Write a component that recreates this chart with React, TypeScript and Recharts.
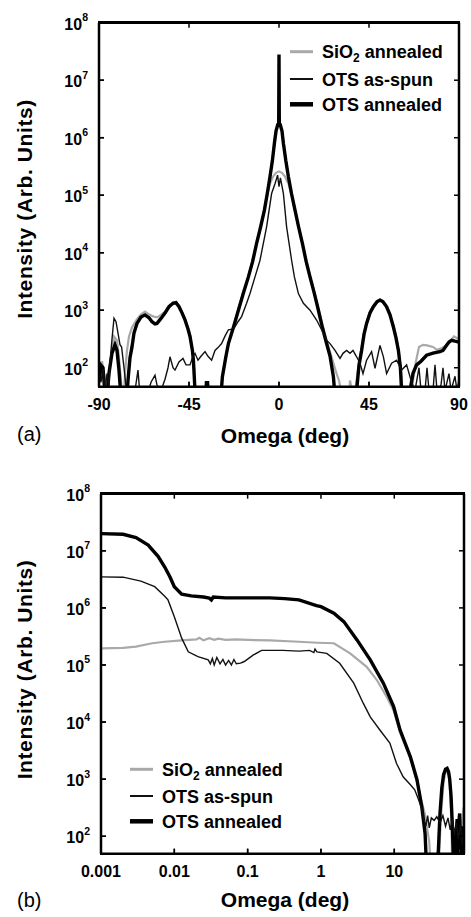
import React from "react"
import { LineChart, Line, XAxis, YAxis } from "recharts"

// ---- panel (a): omega scan, linear degrees ----
const sio2AOmega = [-90, -88.5, -87, -86, -84.5, -82.5, -81, -80, -79, -77.8, -77, -76, -75, -73.5, -71, -69, -67, -65, -63, -61, -59, -57, -55, -53, -51.5, -50, -48.5, -47, -45.5, -44.5, -43.3, -42.5, -41.8, -29.5, -28.3, -26.5, -25.3, -22.8, -20.3, -17.8, -15.3, -13.2, -11.2, -9.2, -7.3, -5.9, -4.5, -3, -1.5, 0, 1.5, 3, 4.7, 6.3, 8, 9.8, 11.7, 13.6, 15.5, 17.6, 19.7, 21.7, 23.8, 25.5, 27.5, 29, 30, 31, 32, 35, 35.5, 36.5, 38, 38.5, 40, 41.3, 42.5, 43.8, 45.5, 47.2, 49, 50.5, 52, 53.8, 55.5, 57.2, 58.5, 59.7, 60.7, 61.5, 62.3, 66, 67, 68.5, 70, 72, 74, 77, 79, 81.5, 84, 86, 87.5, 89, 90]
const sio2AIntensity = [50, 130, 60, 40, 110, 350, 300, 150, 60, 20, 80, 200, 350, 500, 700, 850, 950, 850, 780, 750, 830, 950, 1180, 1380, 1400, 1200, 920, 700, 480, 370, 210, 100, 30, 20, 70, 160, 263, 520, 1050, 2100, 3900, 7300, 14500, 28000, 55000, 100000, 160000, 210000, 245000, 260000, 245000, 210000, 160000, 100000, 55000, 28000, 14500, 7200, 3900, 2100, 1050, 560, 300, 190, 110, 75, 60, 40, 20, 20, 60, 40, 20, 50, 130, 220, 400, 620, 950, 1200, 1450, 1550, 1450, 1200, 860, 540, 350, 210, 110, 50, 20, 20, 60, 130, 230, 250, 245, 230, 205, 220, 250, 300, 350, 330, 320]

const spunAOmega = [-90, -89, -88, -87, -86, -85, -84.5, -83.5, -82.5, -81.5, -80.5, -79.5, -78.7, -77.5, -76, -74, -72, -70.5, -69.5, -66, -64, -62, -61, -59, -57, -55.5, -54.5, -53, -52, -50, -48, -46.5, -44.5, -43, -42, -40.5, -39, -37, -35.5, -33.7, -32, -30.5, -28.7, -27, -25.3, -23.5, -22, -20.5, -18.7, -16.2, -14.5, -12, -9.5, -6.2, -3.7, -2, -0.7, 0, 0.7, 2.2, 3.8, 6.3, 7.7, 9.7, 12.2, 15.5, 18.8, 21.3, 23.8, 25.5, 28, 30.5, 32, 33.8, 35.5, 37, 38.8, 40.5, 42, 43.8, 46.3, 48, 50.5, 52.2, 53.8, 56.3, 58.8, 61.3, 63.8, 66.3, 68, 70, 71, 73, 74, 75, 77, 78, 79, 81, 82, 83, 85, 86, 88, 89, 90]
const spunAIntensity = [79, 56, 100, 40, 79, 50, 126, 316, 724, 631, 398, 251, 229, 100, 32, 32, 40, 91, 32, 32, 56, 74, 50, 40, 63, 100, 155, 100, 91, 126, 145, 112, 112, 158, 178, 135, 158, 191, 158, 135, 200, 224, 263, 355, 457, 468, 513, 631, 776, 1318, 1950, 3800, 7400, 28200, 107000, 158000, 224000, 141000, 200000, 107000, 28200, 7400, 3800, 1950, 1318, 1000, 676, 457, 302, 263, 200, 145, 178, 200, 178, 200, 155, 120, 79, 135, 191, 98, 245, 155, 79, 120, 135, 91, 112, 56, 40, 100, 40, 40, 100, 40, 40, 112, 40, 50, 100, 40, 79, 40, 71, 40, 63]

const annealAOmega = [-90, -89, -88, -87, -86, -85, -83.5, -82, -81, -80, -79, -76.5, -75.5, -74.5, -73.5, -72.5, -71, -69, -67, -65, -63.5, -62, -61, -59, -57, -55, -53, -51.5, -50, -48.5, -47, -45.5, -44.5, -43.3, -42.8, -42, -40, -37, -36.3, -35.7, -35, -29.5, -28.3, -26.5, -25.3, -22.8, -20.3, -17.8, -15.3, -13.2, -11.2, -9.2, -7.3, -5.9, -4.5, -3.3, -2.3, -1.5, -0.6, -0.15, 0, 0.15, 0.6, 1.5, 2.2, 3.4, 4.7, 6.3, 8, 9.8, 11.7, 13.6, 15.5, 17.6, 19.7, 21.7, 23.8, 25.5, 27.2, 28.5, 37, 38.8, 40, 41.3, 42.5, 43.8, 45.5, 47.2, 49, 50.5, 52, 53.8, 55.5, 57.2, 58.5, 59.7, 60.7, 61.3, 62.5, 65, 65.5, 67, 68.8, 71, 73.8, 77, 80.5, 82, 83.8, 85, 86.3, 88, 90]
const annealAIntensity = [60, 110, 100, 35, 30, 80, 180, 250, 200, 90, 30, 20, 60, 150, 230, 400, 590, 760, 830, 740, 630, 580, 590, 720, 890, 1150, 1320, 1350, 1150, 900, 680, 470, 350, 200, 135, 40, 20, 20, 55, 55, 20, 20, 70, 160, 263, 500, 1000, 2000, 3800, 7000, 14500, 28000, 55000, 105000, 210000, 400000, 800000, 1300000, 1700000, 1800000, 28000000, 1800000, 1700000, 1300000, 800000, 400000, 210000, 105000, 55000, 28000, 14500, 7000, 3800, 2000, 1000, 500, 263, 160, 70, 20, 20, 40, 110, 200, 380, 590, 900, 1150, 1400, 1500, 1400, 1150, 830, 510, 330, 200, 100, 40, 20, 20, 40, 80, 112, 130, 165, 180, 190, 200, 245, 280, 300, 290, 280]

// ---- panel (b): omega scan, log degrees ----
const sio2BOmega = [0.001, 0.002, 0.003, 0.005, 0.0074, 0.0126, 0.02, 0.022, 0.025, 0.03, 0.035, 0.04, 0.05, 0.07, 0.1, 0.2, 0.5, 0.9, 1.5, 2.5, 4.2, 5.75, 7.9, 9.8, 12, 16.6, 20.4, 23.7, 26, 28.5, 30, 32, 40, 43, 47, 50, 52.5, 55, 57, 60, 62, 76, 80, 83, 85, 88, 89.3]
const sio2BIntensity = [195000, 200000, 210000, 240000, 255000, 270000, 280000, 300000, 270000, 295000, 275000, 290000, 275000, 280000, 275000, 270000, 255000, 245000, 240000, 160000, 93000, 55000, 27500, 16000, 6500, 2300, 900, 400, 250, 120, 80, 20, 20, 200, 900, 1300, 1400, 1200, 850, 200, 20, 20, 60, 150, 200, 320, 250]

const spunBOmega = [0.001, 0.002, 0.0035, 0.0054, 0.0074, 0.0082, 0.01, 0.0126, 0.0155, 0.021, 0.029, 0.031, 0.033, 0.035, 0.038, 0.042, 0.046, 0.05, 0.055, 0.06, 0.065, 0.07, 0.08, 0.09, 0.12, 0.155, 0.3, 0.5, 0.7, 0.8, 0.83, 0.88, 1.2, 1.8, 2.8, 3.8, 4.7, 6.4, 8.7, 10.7, 13.2, 16.6, 19, 21.4, 23.7, 25.5, 27, 28.5, 30, 32, 35, 38, 42, 46, 50, 54, 58, 62, 66, 70, 75, 80, 85, 89.3]
const spunBIntensity = [3500000, 3450000, 2950000, 2350000, 1600000, 1380000, 700000, 295000, 170000, 140000, 123000, 105000, 130000, 100000, 135000, 105000, 125000, 100000, 120000, 100000, 125000, 105000, 108000, 115000, 150000, 180000, 180000, 175000, 180000, 165000, 190000, 170000, 160000, 107000, 48000, 21000, 12300, 7200, 4300, 1900, 1100, 800, 650, 440, 300, 190, 150, 230, 140, 210, 190, 220, 170, 230, 150, 210, 130, 200, 110, 170, 90, 160, 70, 140]

const annealBOmega = [0.001, 0.002, 0.003, 0.0044, 0.006, 0.0074, 0.0087, 0.01, 0.0126, 0.017, 0.025, 0.03, 0.032, 0.034, 0.05, 0.1, 0.2, 0.32, 0.5, 0.87, 1.0, 1.5, 2.05, 3.1, 4.7, 7.1, 9.8, 12, 16.6, 20.4, 23.7, 26.3, 27.5, 30, 38, 40, 42, 44.5, 47, 50, 52.5, 55, 57, 59.5, 62, 64, 66, 68, 70, 72, 74, 76, 78, 80, 82, 83.5, 85, 87, 89.3]
const annealBIntensity = [20000000, 19500000, 17000000, 12600000, 8000000, 5200000, 3500000, 2350000, 1740000, 1620000, 1550000, 1480000, 1380000, 1550000, 1500000, 1500000, 1500000, 1450000, 1380000, 1100000, 1050000, 810000, 575000, 275000, 123000, 48000, 18600, 7240, 2450, 980, 330, 112, 30, 20, 20, 60, 250, 700, 1200, 1500, 1550, 1350, 1000, 500, 150, 40, 20, 50, 120, 200, 50, 180, 250, 60, 140, 40, 150, 50, 130]

const logTicks = [100, 1000, 10000, 100000, 1000000, 10000000, 100000000]
const degTicksA = [-90, -45, 0, 45, 90]
const degTicksB = [0.001, 0.01, 0.1, 1, 10]

const pts = (xs: number[], ys: number[]) => xs.map((x, i) => ({ x, y: ys[i] }))

const FONT = "'Liberation Sans', Arial, Helvetica, sans-serif"
const GRAY = "#a9a9a9"

const YTick = (props: any) => {
  const { x, y, payload } = props
  const exp = Math.round(Math.log10(payload.value))
  return (
    <text x={x} y={y + 7} textAnchor="end" fontFamily={FONT} fontWeight="bold" fontSize={16} fill="#000" stroke="none">
      10<tspan dy={-8.5} fontSize={10.5}>{exp}</tspan>
    </text>
  )
}

const XTick = (props: any) => {
  const { x, y, payload } = props
  return (
    <text x={x} y={y} textAnchor="middle" fontFamily={FONT} fontWeight="bold" fontSize={16} fill="#000" stroke="none">
      {String(payload.value)}
    </text>
  )
}

interface PanelProps {
  top: number
  height: number
  margin: { top: number; right: number; bottom: number; left: number }
  logX: boolean
  xDomain: [number, number]
  xTicks: number[]
  yDomain: [number, number]
  sio2: { x: number; y: number }[]
  spun: { x: number; y: number }[]
  anneal: { x: number; y: number }[]
}

function Panel({ top, height, margin, logX, xDomain, xTicks, yDomain, sio2, spun, anneal }: PanelProps) {
  const xScale = logX ? "log" : "auto"
  return (
    <div style={{ position: "absolute", left: 0, top }}>
      <LineChart width={471} height={height} margin={margin}>
        <XAxis dataKey="x" type="number" scale={xScale} domain={xDomain} allowDataOverflow ticks={xTicks} interval={0}
          height={40} tickSize={-5} tickMargin={28.3} stroke="#000" strokeWidth={2.5} tickLine={{ strokeWidth: 1.5 }} tick={<XTick />} />
        <XAxis xAxisId="top" orientation="top" dataKey="x" type="number" scale={xScale} domain={xDomain} allowDataOverflow ticks={xTicks}
          interval={0} height={1} tickSize={-5} stroke="#000" strokeWidth={2.5} tickLine={{ strokeWidth: 1.5 }} tick={false} />
        <YAxis type="number" scale="log" domain={yDomain} allowDataOverflow ticks={logTicks} interval={0} width={60}
          tickSize={-5} tickMargin={16} stroke="#000" strokeWidth={2.5} tickLine={{ strokeWidth: 1.5 }} tick={<YTick />} />
        <YAxis yAxisId="right" orientation="right" type="number" scale="log" domain={yDomain} allowDataOverflow ticks={logTicks}
          interval={0} width={1} tickSize={-5} stroke="#000" strokeWidth={2.5} tickLine={{ strokeWidth: 1.5 }} tick={false} />
        <Line data={sio2} dataKey="y" type="linear" stroke={GRAY} strokeWidth={2.2} dot={false} isAnimationActive={false} />
        <Line data={anneal} dataKey="y" type="linear" stroke="#000" strokeWidth={3.4} dot={false} isAnimationActive={false} />
        <Line data={spun} dataKey="y" type="linear" stroke="#111" strokeWidth={1.4} dot={false} isAnimationActive={false} />
      </LineChart>
    </div>
  )
}

// inward tick marks, placed from the same domains the charts use
function TickMarks({ left, top, right, bottom, logX, xDomain, xTicks, yDomain }: {
  left: number; top: number; right: number; bottom: number; logX: boolean
  xDomain: [number, number]; xTicks: number[]; yDomain: [number, number]
}) {
  const f = (v: number) => (logX ? Math.log10(v) : v)
  const sx = (v: number) => left + ((f(v) - f(xDomain[0])) / (f(xDomain[1]) - f(xDomain[0]))) * (right - left)
  const ly0 = Math.log10(yDomain[0])
  const ly1 = Math.log10(yDomain[1])
  const sy = (v: number) => bottom - ((Math.log10(v) - ly0) / (ly1 - ly0)) * (bottom - top)
  return (
    <g>
      {xTicks.map((t) => (
        <g key={"x" + t}>
          <line x1={sx(t)} x2={sx(t)} y1={bottom} y2={bottom - 5} stroke="#000" strokeWidth={1.5} />
          <line x1={sx(t)} x2={sx(t)} y1={top} y2={top + 5} stroke="#000" strokeWidth={1.5} />
        </g>
      ))}
      {logTicks.map((t) => (
        <g key={"y" + t}>
          <line x1={left} x2={left + 5} y1={sy(t)} y2={sy(t)} stroke="#000" strokeWidth={1.5} />
          <line x1={right} x2={right - 5} y1={sy(t)} y2={sy(t)} stroke="#000" strokeWidth={1.5} />
        </g>
      ))}
    </g>
  )
}

function Box({ left, top, right, bottom }: { left: number; top: number; right: number; bottom: number }) {
  return (
    <div
      style={{
        position: "absolute",
        left: left - 1.25,
        top: top - 1.25,
        width: right - left + 2.5,
        height: bottom - top + 2.5,
        border: "2.5px solid #000",
        boxSizing: "border-box",
        zIndex: 10,
        pointerEvents: "none",
      }}
    />
  )
}

function LegendBlock({ x, ys }: { x: number; ys: number[] }) {
  const t = { fontFamily: FONT, fontWeight: "bold" as const, fontSize: 18, fill: "#000" }
  return (
    <g>
      <line x1={x} x2={x + 23} y1={ys[0]} y2={ys[0]} stroke={GRAY} strokeWidth={3} />
      <line x1={x} x2={x + 23} y1={ys[1]} y2={ys[1]} stroke="#111" strokeWidth={2} />
      <line x1={x} x2={x + 23} y1={ys[2]} y2={ys[2]} stroke="#000" strokeWidth={4.5} />
      <text x={x + 32} y={ys[0] + 6.5} {...t}>
        SiO<tspan dy={4} fontSize={12}>2</tspan>
        <tspan dy={-4}> annealed</tspan>
      </text>
      <text x={x + 32} y={ys[1] + 6.5} {...t}>OTS as-spun</text>
      <text x={x + 32} y={ys[2] + 6.5} {...t}>OTS annealed</text>
    </g>
  )
}

export default function App() {
  const title = { fontFamily: FONT, fontWeight: "bold" as const, fontSize: 21, fill: "#000" }
  const panelLab = { fontFamily: FONT, fontSize: 20, fill: "#000" }
  const domA: [number, number] = [-90, 90]
  const domB: [number, number] = [0.001, 89.3]
  const yDomA: [number, number] = [46.8, 1e8]
  const yDomB: [number, number] = [49.5, 1e8]
  return (
    <div style={{ position: "absolute", left: 0, top: 0, width: 471, height: 917, background: "#fff" }}>
      <Panel
        top={0}
        height={455}
        margin={{ top: 21.7, right: 11, bottom: 28.3, left: 39 }}
        logX={false}
        xDomain={domA}
        xTicks={degTicksA}
        yDomain={yDomA}
        sio2={pts(sio2AOmega, sio2AIntensity)}
        spun={pts(spunAOmega, spunAIntensity)}
        anneal={pts(annealAOmega, annealAIntensity)}
      />
      <Panel
        top={460}
        height={457}
        margin={{ top: 32.7, right: 6, bottom: 23.3, left: 41 }}
        logX={true}
        xDomain={domB}
        xTicks={degTicksB}
        yDomain={yDomB}
        sio2={pts(sio2BOmega, sio2BIntensity)}
        spun={pts(spunBOmega, spunBIntensity)}
        anneal={pts(annealBOmega, annealBIntensity)}
      />
      <svg width={471} height={917} style={{ position: "absolute", left: 0, top: 0, pointerEvents: "none", zIndex: 5 }}>
        <TickMarks left={99} top={22.7} right={459} bottom={386.7} logX={false} xDomain={domA} xTicks={degTicksA} yDomain={yDomA} />
        <TickMarks left={101} top={493.7} right={464} bottom={853.7} logX={true} xDomain={domB} xTicks={degTicksB} yDomain={yDomB} />
        <LegendBlock x={290} ys={[51.7, 79, 104.3]} />
        <LegendBlock x={130} ys={[769.3, 796, 821.3]} />
        <text transform="translate(32,209) rotate(-90)" textAnchor="middle" letterSpacing={0.6} {...title}>
          Intensity (Arb. Units)
        </text>
        <text transform="translate(32,669.5) rotate(-90)" textAnchor="middle" letterSpacing={0.6} {...title}>
          Intensity (Arb. Units)
        </text>
        <text x={285} y={442.5} textAnchor="middle" {...title}>Omega (deg)</text>
        <text x={285} y={906.7} textAnchor="middle" {...title}>Omega (deg)</text>
        <text x={17} y={441} {...panelLab}>(a)</text>
        <text x={17} y={907} {...panelLab}>(b)</text>
      </svg>
      <Box left={99} top={22.7} right={459} bottom={386.7} />
      <Box left={101} top={493.7} right={464} bottom={853.7} />
    </div>
  )
}
